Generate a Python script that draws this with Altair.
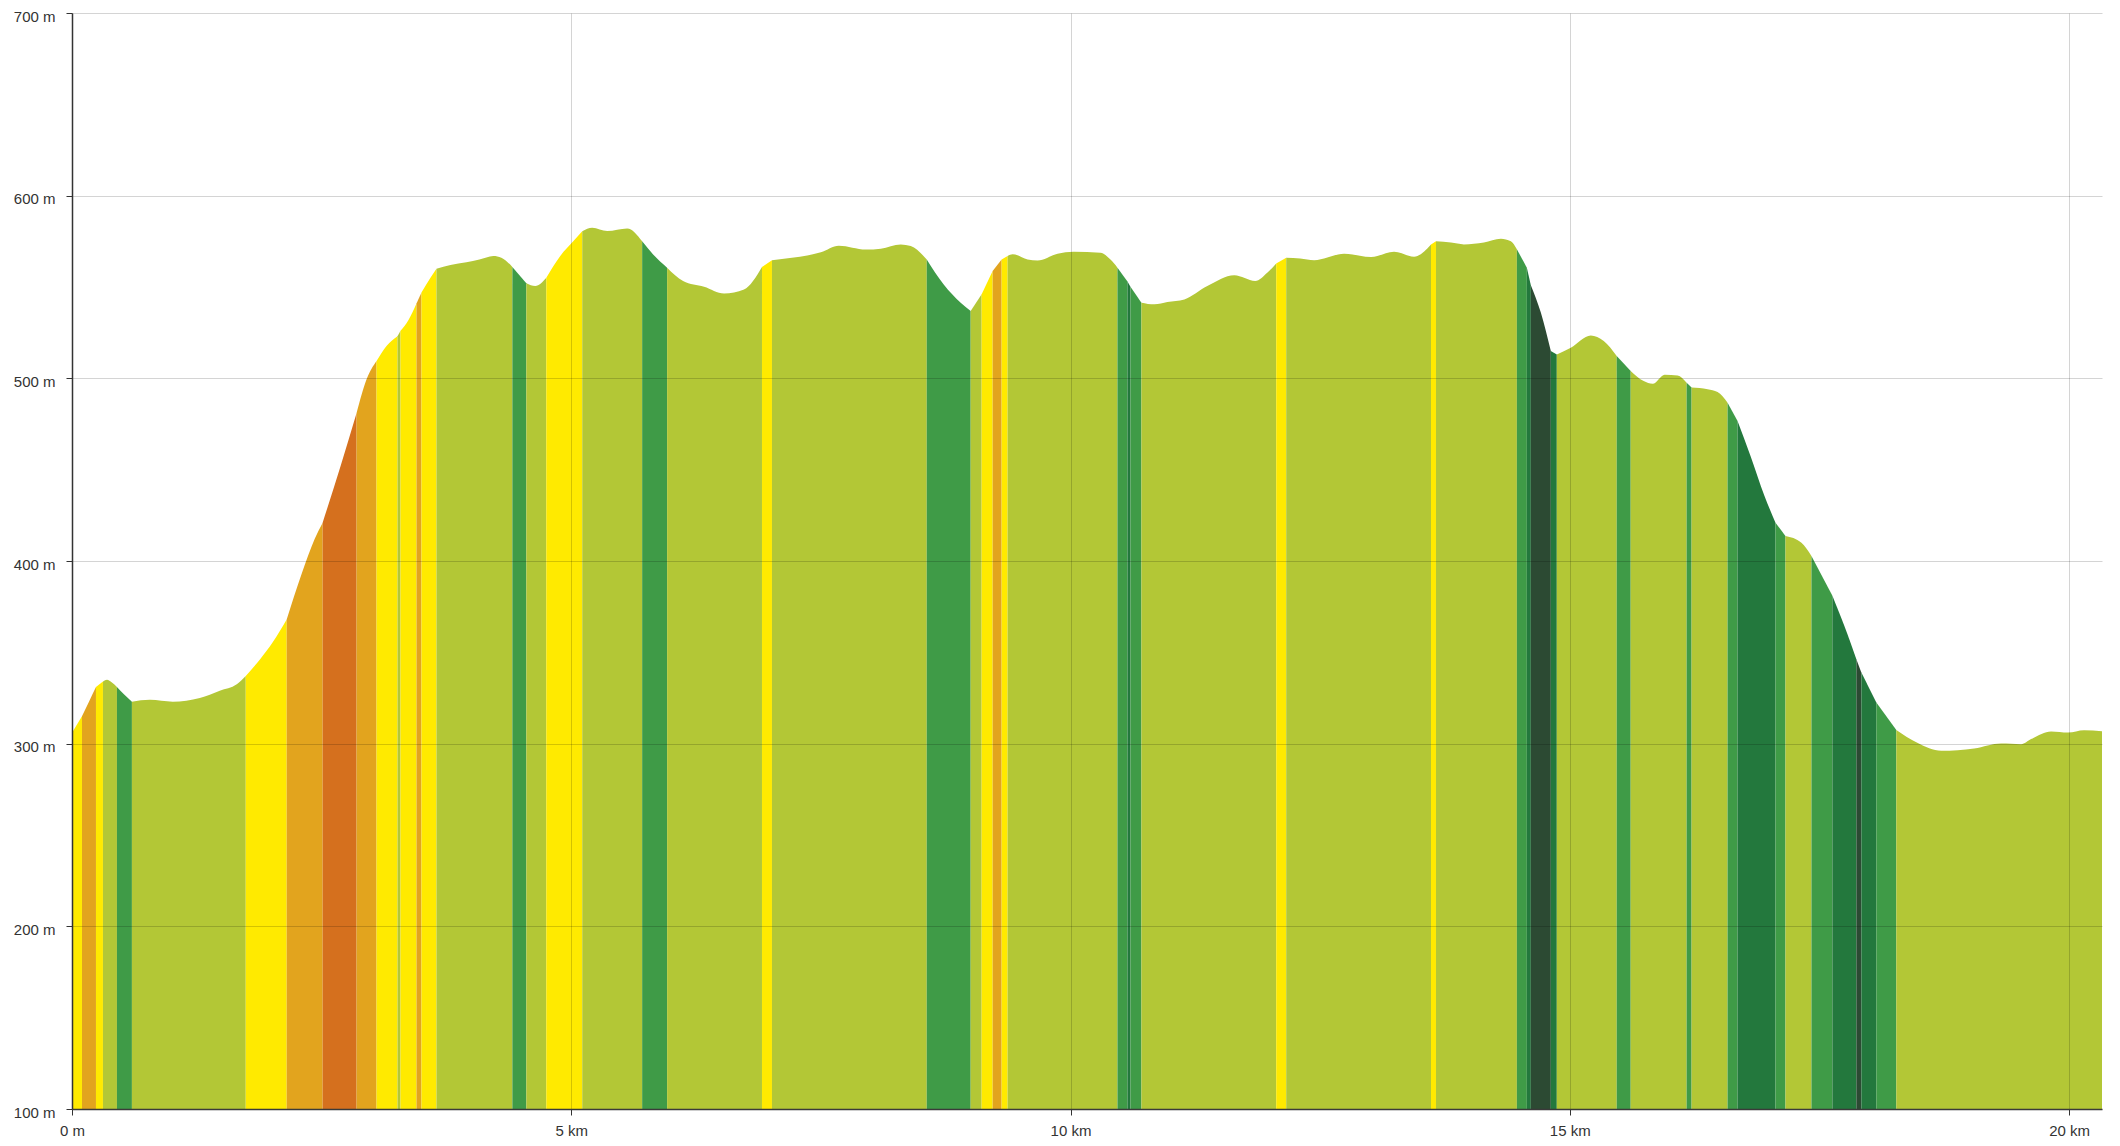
import altair as alt
import pandas as pd

# Elevation profile (km, metres)
profile_km = [
    0.00, 0.10, 0.17, 0.24, 0.31, 0.35, 0.40, 0.45, 0.52, 0.60, 0.78, 1.01, 1.28, 1.48, 1.65,
    1.74, 1.88, 2.01, 2.15, 2.30, 2.43, 2.51, 2.69, 2.85, 2.95, 3.05, 3.15, 3.26, 3.29, 3.37,
    3.45, 3.50, 3.59, 3.65, 3.79, 3.95, 4.08, 4.22, 4.30, 4.41, 4.55, 4.64, 4.75, 4.89, 5.02,
    5.11, 5.21, 5.36, 5.56, 5.71, 5.82, 5.96, 6.12, 6.33, 6.53, 6.73, 6.91, 7.01, 7.13, 7.29,
    7.50, 7.68, 7.95, 8.10, 8.30, 8.40, 8.56, 8.73, 8.90, 9.00, 9.11, 9.22, 9.31, 9.37, 9.42,
    9.57, 9.67, 9.87, 10.03, 10.30, 10.40, 10.47, 10.57, 10.60, 10.71, 10.84, 10.97, 11.14, 11.37, 11.64,
    11.85, 11.97, 12.06, 12.16, 12.30, 12.44, 12.74, 13.01, 13.24, 13.44, 13.61, 13.66, 13.81, 13.94, 14.14,
    14.31, 14.41, 14.47, 14.57, 14.61, 14.71, 14.81, 14.87, 15.01, 15.21, 15.34, 15.47, 15.61, 15.74, 15.83,
    15.95, 16.08, 16.17, 16.22, 16.38, 16.48, 16.58, 16.68, 16.81, 16.95, 17.06, 17.16, 17.32, 17.42, 17.63,
    17.75, 17.87, 17.92, 18.07, 18.27, 18.48, 18.72, 19.05, 19.32, 19.52, 19.62, 19.82, 19.99, 20.15, 20.33,
]
profile_elev = [
    306, 315, 323, 331, 334, 335, 333.5, 331, 327, 323, 324, 323, 325, 329, 332.5,
    337, 346, 355.5, 368, 393, 412, 421, 452, 481, 499.5, 509.5, 517.7, 523, 526, 532,
    541, 547, 555, 560, 562, 563.5, 565, 567, 566, 561, 552, 550.5, 555, 567, 575,
    580.5, 582.4, 580.6, 582, 575, 567.8, 560.6, 553.3, 550.2, 546.5, 548.7, 561, 564.7, 565.5, 566.5,
    569, 572.6, 570.5, 571, 573.3, 572.4, 565.1, 551.4, 541.4, 536.8, 546, 558.7, 565.1, 567, 567.9,
    565.1, 564.5, 568.2, 569.3, 568.7, 565, 560.6, 553, 550.2, 541.4, 540.5, 541.8, 543.2, 550.5, 556.4,
    553.3, 557.8, 562.9, 566, 565.6, 564.7, 568.2, 566.4, 569.3, 566.6, 573.3, 575, 574.3, 573.3, 574.3,
    576.4, 575, 570.6, 560.6, 551, 536, 515, 513.1, 516.8, 523.5, 520.4, 512.2, 504, 498.5, 497,
    502, 501.5, 497.6, 495, 494, 492.5, 486.7, 476.7, 457.5, 435.6, 421, 413.7, 410, 402.8, 381,
    364.4, 346.2, 339, 322.5, 307.5, 300.5, 296.1, 297.4, 300.1, 299.7, 302.5, 306.7, 306.1, 307.4, 306.8,
]

# Gradient bands: boundaries (km) and class of each band
band_edges = [
    0.00, 0.10, 0.24, 0.31, 0.45, 0.60, 1.74, 2.15, 2.51, 2.85, 3.05, 3.26, 3.29, 3.45, 3.50,
    3.65, 4.41, 4.55, 4.75, 5.11, 5.71, 5.96, 6.91, 7.01, 8.56, 9.00, 9.11, 9.22, 9.31, 9.37,
    10.47, 10.57, 10.60, 10.71, 12.06, 12.16, 13.61, 13.66, 14.47, 14.57, 14.61, 14.81, 14.87, 15.47, 15.61,
    16.17, 16.22, 16.58, 16.68, 17.06, 17.16, 17.42, 17.63, 17.87, 17.92, 18.07, 18.27, 20.33,
]
band_class = [
    "up1", "up2", "up1", "flat", "down1", "flat", "up1", "up2", "up3", "up2", "up1", "flat", "up1", "up2",
    "up1", "flat", "down1", "flat", "up1", "flat", "down1", "flat", "up1", "flat", "down1", "flat", "up1",
    "up2", "up1", "flat", "down1", "down2", "down1", "flat", "up1", "flat", "up1", "flat", "down1", "down2",
    "down3", "down2", "flat", "down1", "flat", "down1", "flat", "down1", "down2", "down1", "flat", "down1",
    "down2", "down3", "down2", "down1", "flat",
]

class_names = ["flat", "up1", "up2", "up3", "down1", "down2", "down3"]
class_colors = ["#B3C736", "#FFEA00", "#E2A41E", "#D5701E", "#3F9B47", "#23783D", "#2C4A33"]

x_ticks = [0, 5, 10, 15, 20]
y_ticks = [100, 200, 300, 400, 500, 600, 700]

rows = []
for i, cls in enumerate(band_class):
    s, e = band_edges[i], band_edges[i + 1]
    for k, v in zip(profile_km, profile_elev):
        if s - 1e-6 <= k <= e + 1e-6:
            rows.append({"band": i, "cls": cls, "km": k, "elev": v})
df = pd.DataFrame(rows)

font = "Liberation Sans"

chart = alt.Chart(df).mark_area(interpolate="monotone").encode(
    x=alt.X(
        "km:Q",
        scale=alt.Scale(domain=[0, 20.33], nice=False),
        axis=alt.Axis(
            values=x_ticks,
            labelExpr="datum.value == 0 ? '0 m' : datum.value + ' km'",
            title=None,
            grid=True,
            gridColor="#000000",
            gridOpacity=0.17,
            domainColor="#3a3a3a",
            domainWidth=1.5,
            tickColor="#333333",
            tickSize=6,
            labelPadding=8,
            labelFlush=False,
            labelFont=font,
            labelFontSize=15,
            labelColor="#333333",
            zindex=1,
        ),
    ),
    y=alt.Y(
        "elev:Q",
        stack=None,
        scale=alt.Scale(domain=[100, 700], nice=False, zero=False),
        axis=alt.Axis(
            values=y_ticks,
            labelExpr="datum.value + ' m'",
            title=None,
            grid=True,
            gridColor="#000000",
            gridOpacity=0.17,
            domainColor="#333333",
            domainWidth=1.5,
            tickColor="#333333",
            tickSize=6,
            labelPadding=11,
            labelOffset=3,
            labelFlush=False,
            labelFont=font,
            labelFontSize=15,
            labelColor="#333333",
            zindex=1,
        ),
    ),
    y2=alt.datum(100),
    color=alt.Color("cls:N", scale=alt.Scale(domain=class_names, range=class_colors), legend=None),
    detail="band:N",
).properties(
    width=2030,
    height=1096,
    autosize=alt.AutoSizeParams(type="none"),
    padding={"left": 64, "top": 5, "right": 10, "bottom": 28},
).configure_view(strokeWidth=0)

chart.save("out.html", embed_options={"renderer": "svg", "actions": False})
